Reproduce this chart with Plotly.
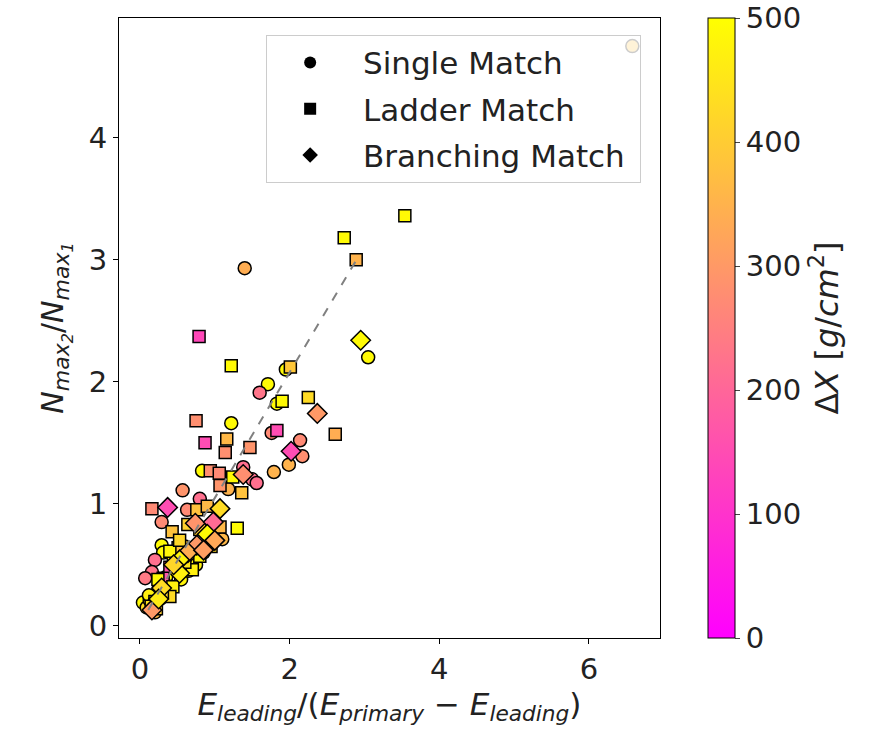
import plotly.graph_objects as go

# ---- data ----
single_x = [6.58, 1.40, 3.05, 1.95, 1.71, 1.60, 1.83, 1.22, 1.76, 2.14, 2.17, 1.99, 1.79, 0.83,
            1.38, 1.50, 1.56, 1.18, 0.57, 0.80, 0.63, 0.29, 1.10, 0.29, 0.31, 0.20, 0.16, 0.07,
            0.45, 0.60, 0.70, 0.85, 0.95, 1.00, 0.50, 0.35, 0.25, 0.40, 0.55, 0.65, 0.75,
            0.04, 0.09, 0.13, 0.20, 0.12, 0.18, 0.27, 0.33]
single_y = [4.75, 2.93, 2.20, 2.10, 1.98, 1.91, 1.82, 1.66, 1.58, 1.52, 1.39, 1.32, 1.26, 1.27,
            1.30, 1.20, 1.17, 1.12, 1.11, 1.04, 0.95, 0.85, 0.71, 0.66, 0.60, 0.54, 0.44, 0.39,
            0.55, 0.65, 0.55, 0.60, 0.70, 0.85, 0.45, 0.40, 0.30, 0.32, 0.38, 0.45, 0.50,
            0.19, 0.15, 0.21, 0.11, 0.25, 0.18, 0.22, 0.28]
single_dx = [380, 340, 490, 490, 490, 230, 490, 490, 270, 270, 280, 350, 350, 490,
             220, 220, 220, 350, 290, 220, 270, 270, 360, 490, 490, 220, 230, 240,
             480, 400, 420, 450, 380, 300, 460, 490, 470, 430, 480, 440, 470,
             490, 430, 490, 360, 470, 420, 480, 300]

ladder_x = [3.54, 2.73, 2.89, 0.79, 1.22, 2.01, 1.90, 2.25, 0.75, 2.61, 1.83, 1.47, 0.87, 1.16,
            1.14, 0.94, 1.06, 1.07, 1.24, 1.36, 0.16, 0.76, 0.90, 1.07, 1.30, 0.43, 0.64, 0.51,
            0.40, 0.70, 0.40, 0.31, 0.24, 0.44, 0.40, 0.53, 0.80, 0.80, 0.95, 0.60, 0.30, 0.20,
            0.15, 0.22]
ladder_y = [3.36, 3.18, 3.00, 2.37, 2.13, 2.12, 1.84, 1.87, 1.68, 1.57, 1.60, 1.46, 1.50, 1.53,
            1.42, 1.27, 1.25, 1.15, 1.22, 1.09, 0.96, 0.95, 0.98, 0.81, 0.80, 0.77, 0.83, 0.64,
            0.61, 0.46, 0.48, 0.39, 0.38, 0.32, 0.24, 0.70, 0.79, 0.57, 0.65, 0.52, 0.27, 0.20,
            0.16, 0.14]
ladder_dx = [490, 490, 350, 140, 490, 390, 490, 430, 280, 340, 150, 290, 150, 360,
             280, 280, 270, 290, 490, 380, 270, 380, 360, 360, 490, 380, 410, 380,
             480, 470, 160, 170, 490, 470, 430, 420, 400, 480, 430, 450, 420, 470,
             440, 400]

branch_x = [2.95, 2.37, 2.02, 1.38, 0.37, 1.07, 0.74, 0.98, 0.90, 0.76, 0.64, 0.53, 0.53, 0.29,
            0.16, 1.00, 0.25, 0.85, 0.45]
branch_y = [2.34, 1.74, 1.43, 1.24, 0.97, 0.96, 0.84, 0.85, 0.75, 0.66, 0.60, 0.54, 0.43, 0.31,
            0.13, 0.70, 0.22, 0.62, 0.50]
branch_dx = [490, 300, 150, 280, 150, 430, 290, 210, 490, 300, 340, 480, 470, 430,
             300, 330, 460, 310, 420]

fit_x = [0.11, 2.89]
fit_slope = 1.03
fit_intercept = 0.017

cbar_ticks = [0, 100, 200, 300, 400, 500]

# ---- figure ----
fig = go.Figure()
edge = dict(color="black", width=1.5)

fig.add_trace(go.Scatter(x=single_x, y=single_y, mode="markers", showlegend=False,
                         marker=dict(symbol="circle", size=13, color=single_dx,
                                     coloraxis="coloraxis", line=edge)))
fig.add_trace(go.Scatter(x=ladder_x, y=ladder_y, mode="markers", showlegend=False,
                         marker=dict(symbol="square", size=12, color=ladder_dx,
                                     coloraxis="coloraxis", line=edge)))
fig.add_trace(go.Scatter(x=branch_x, y=branch_y, mode="markers", showlegend=False,
                         marker=dict(symbol="diamond", size=15, color=branch_dx,
                                     coloraxis="coloraxis", line=edge)))
fig.add_trace(go.Scatter(x=fit_x, y=[fit_slope * v + fit_intercept for v in fit_x],
                         mode="lines", showlegend=False,
                         line=dict(color="gray", width=2, dash="dash")))

for i, (name, sym, sz) in enumerate([("Single Match", "circle", 12), ("Ladder Match", "square", 11),
                                     ("Branching Match", "diamond", 14)]):
    fig.add_trace(go.Scatter(x=[None], y=[None], mode="markers",
                             name=" " + name + "\u00a0",
                             legendgroup="g%d" % i,
                             marker=dict(symbol=sym, size=sz, color="black")))

axis_common = dict(showline=True, mirror=True, linecolor="black", linewidth=1.2,
                   ticks="outside", ticklen=5, tickcolor="black", showgrid=False,
                   zeroline=False, automargin=False, tickfont=dict(size=29, color="#222"))

sub = "<span style='font-size:22px'>"
subsub = "<span style='font-size:16px'>"
ytitle = ("<i>N<sub>" + sub + "max</span><sub>" + subsub + "2</span></sub></sub></i>/"
          "<i>N<sub>" + sub + "max</span><sub>" + subsub + "1</span></sub></sub></i>")

fig.update_layout(
    width=869, height=733,
    margin=dict(l=119, r=209, t=18, b=95),
    plot_bgcolor="white", paper_bgcolor="white",
    font=dict(family="DejaVu Sans", color="#222"),
    xaxis=dict(range=[-0.28, 6.95], tickvals=[0, 2, 4, 6],
               title=dict(text="<i>E<sub>leading</sub></i>/(<i>E<sub>primary</sub></i> − <i>E<sub>leading</sub></i>)",
                          font=dict(size=31), standoff=4),
               **axis_common),
    yaxis=dict(range=[-0.1, 4.98], tickvals=[0, 1, 2, 3, 4],
               title=dict(text=ytitle, font=dict(size=30), standoff=16),
               **axis_common),
    coloraxis=dict(cmin=0, cmax=500,
                   colorscale=[[0, "rgb(255,0,255)"], [1, "rgb(255,255,0)"]],
                   colorbar=dict(x=1.071, xanchor="left", y=0, yanchor="bottom", len=1.0,
                                 lenmode="fraction", thickness=27, thicknessmode="pixels",
                                 ypad=0, outlinecolor="black", outlinewidth=1,
                                 tickvals=cbar_ticks, ticks="outside", ticklen=5,
                                 tickfont=dict(size=29, color="#222"),
                                 title=dict(text="Δ<i>X</i> [<i>g</i>/<i>cm</i><sup>2</sup>]",
                                            side="right", font=dict(size=32)))),
    legend=dict(x=0.272, y=0.973, xanchor="left", yanchor="top",
                bgcolor="rgba(255,255,255,0.8)", bordercolor="#ccc", borderwidth=1,
                font=dict(size=31, color="#222"), itemsizing="constant",
                itemwidth=76, tracegroupgap=3),
)

fig.write_html("out.html")
